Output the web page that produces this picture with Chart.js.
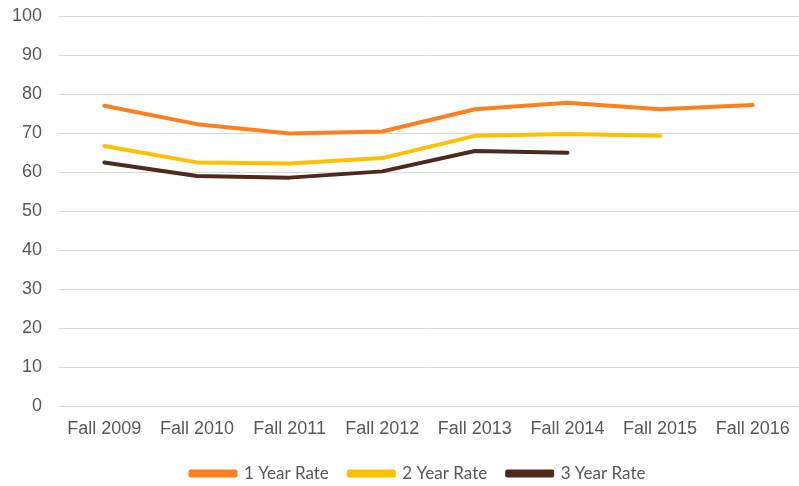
<!DOCTYPE html>
<html lang="en">
<head>
    <meta charset="UTF-8">
    <title>Retention Rates</title>
    <script src="https://cdn.jsdelivr.net/npm/chart.js@4.4.1/dist/chart.umd.min.js"></script>
    <style>
        html, body { margin: 0; padding: 0; background: #fff; }
        .wrap { width: 799px; height: 486px; }
    </style>
</head>
<body>
    <div class="wrap">
        <canvas id="rateChart" width="799" height="486"></canvas>
    </div>

    <script>
        // data
        const terms = ['Fall 2009', 'Fall 2010', 'Fall 2011', 'Fall 2012', 'Fall 2013', 'Fall 2014', 'Fall 2015', 'Fall 2016'];
        const oneYear = [77.0, 72.3, 69.9, 70.4, 76.1, 77.8, 76.1, 77.2];
        const twoYear = [66.7, 62.5, 62.2, 63.6, 69.3, 69.8, 69.3, null];
        const threeYear = [62.5, 59.0, 58.6, 60.2, 65.4, 65.0, null, null];
        const yTicks = [0, 10, 20, 30, 40, 50, 60, 70, 80, 90, 100];

        function line(label, data, color) {
            return {
                label: label,
                data: data,
                borderColor: color,
                backgroundColor: color,
                borderWidth: 4,
                pointRadius: 0,
                tension: 0,
                borderCapStyle: 'round',
                borderJoinStyle: 'round',
                spanGaps: false
            };
        }

        // nudge the legend a bit (excel puts it slightly right and closer to the axis)
        const legendNudge = {
            id: 'legendNudge',
            afterLayout(chart) {
                const lg = chart.legend;
                lg.left += 17; lg.right += 17;
                lg.top -= 7; lg.bottom -= 7;
            }
        };

        new Chart(document.getElementById('rateChart'), {
            type: 'line',
            data: {
                labels: terms,
                datasets: [
                    line('1 Year Rate', oneYear, '#FF7F1E'),
                    line('2 Year Rate', twoYear, '#FFC000'),
                    line('3 Year Rate', threeYear, '#4E2A1C')
                ]
            },
            options: {
                responsive: false,
                animation: false,
                layout: { padding: { top: 16, right: -3, left: 0, bottom: -13 } },
                plugins: {
                    tooltip: { enabled: false },
                    legend: {
                        position: 'bottom',
                        labels: {
                            boxWidth: 45,
                            boxHeight: 4,
                            padding: 20,
                            color: '#595959',
                            font: { family: 'Lato', size: 17 }
                        }
                    }
                },
                scales: {
                    x: {
                        offset: true,
                        afterFit: function (scale) {
                            scale.paddingLeft = 0;
                            scale.paddingRight = 0;
                        },
                        grid: { display: false, drawTicks: false },
                        border: { display: false },
                        ticks: {
                            color: '#595959',
                            padding: 12,
                            maxRotation: 0,
                            font: { family: 'Liberation Sans', size: 18 }
                        }
                    },
                    y: {
                        min: 0,
                        max: 100,
                        afterBuildTicks: function (scale) {
                            scale.ticks = yTicks.map(v => ({ value: v }));
                        },
                        afterFit: function (scale) {
                            scale.width = 58;
                            scale.paddingTop = 0;
                        },
                        grid: { color: '#D9D9D9', lineWidth: 1, drawTicks: false },
                        border: { display: false },
                        ticks: {
                            color: '#595959',
                            padding: 16,
                            font: { family: 'Liberation Sans', size: 18 }
                        }
                    }
                }
            },
            plugins: [legendNudge]
        });
    </script>
</body>
</html>
